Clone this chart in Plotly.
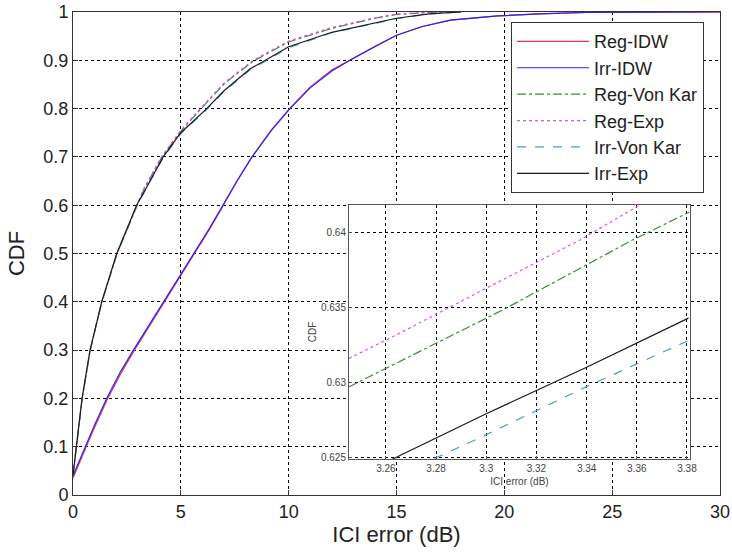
import plotly.graph_objects as go

# main plot: CDF of ICI error
idw_x = [0, 0.56, 1.0, 1.56, 2.2, 2.8, 3.5, 4.2, 4.9, 5.6, 6.3, 6.95, 7.6, 8.3, 9.2,
         10.06, 11.0, 12.0, 12.84, 14.0, 15.0, 16.2, 17.5, 19.7, 21.6, 23.8, 30]
irr_idw_y = [0.04, 0.1, 0.145, 0.2, 0.255, 0.3, 0.35, 0.4, 0.45, 0.5, 0.55, 0.6, 0.65, 0.7, 0.755,
             0.8, 0.843, 0.878, 0.9, 0.928, 0.952, 0.97, 0.983, 0.992, 0.996, 0.999, 1.0]
reg_idw_y = [0.035, 0.094, 0.14, 0.195, 0.25, 0.296, 0.346, 0.396, 0.447, 0.497, 0.548, 0.598, 0.649, 0.7, 0.756,
             0.801, 0.845, 0.88, 0.901, 0.929, 0.952, 0.97, 0.983, 0.992, 0.996, 0.999, 1.0]

kar_x = [0, 0.2, 0.42, 0.79, 1.33, 2.03, 2.95, 3.3, 4.1, 5.0, 5.9, 7.0, 8.35, 10.0, 12.0, 14.0, 15.0, 16.5, 18.0]
reg_vk_y = [0.043, 0.122, 0.198, 0.298, 0.398, 0.498, 0.598, 0.634, 0.698, 0.753, 0.798, 0.851, 0.898, 0.938, 0.966, 0.987, 0.995, 0.999, 1.0]
reg_exp_y = [0.045, 0.125, 0.2, 0.3, 0.4, 0.5, 0.6, 0.636, 0.7, 0.755, 0.8, 0.853, 0.9, 0.94, 0.968, 0.988, 0.996, 0.999, 1.0]
irr_exp_x = [0, 0.2, 0.42, 0.79, 1.33, 2.03, 2.95, 3.3, 4.18, 5.0, 6.2, 7.0, 8.2, 8.8, 10.0, 12.0, 15.0, 16.5, 18.0]
irr_exp_y = [0.04, 0.12, 0.2, 0.3, 0.4, 0.5, 0.6, 0.628, 0.7, 0.75, 0.8, 0.837, 0.882, 0.897, 0.928, 0.958, 0.987, 0.996, 1.0]
irr_vk_y = [0.039, 0.118, 0.198, 0.298, 0.398, 0.498, 0.598, 0.6265, 0.698, 0.748, 0.798, 0.835, 0.88, 0.895, 0.926, 0.957, 0.986, 0.996, 1.0]

# inset (zoom around x = 3.3)
in_reg_exp_x = [3.2453, 3.2656, 3.3, 3.337, 3.3615]
in_reg_exp_y = [0.6316, 0.6333, 0.6363, 0.6395, 0.6419]
in_reg_vk_x = [3.2453, 3.2596, 3.3072, 3.358, 3.3798, 3.381]
in_reg_vk_y = [0.6297, 0.6309, 0.6349, 0.6395, 0.6413, 0.6414]
in_irr_exp_x = [3.262, 3.2656, 3.3, 3.3398, 3.3806]
in_irr_exp_y = [0.6248, 0.6251, 0.6279, 0.6310, 0.6343]
in_irr_vk_x = [3.2794, 3.3, 3.3398, 3.3806]
in_irr_vk_y = [0.6249, 0.6265, 0.6297, 0.6328]

in_xticks = [3.26, 3.28, 3.30, 3.32, 3.34, 3.36, 3.38]
in_xlabels = ["3.26", "3.28", "3.3", "3.32", "3.34", "3.36", "3.38"]
in_yticks = [0.625, 0.63, 0.635, 0.64]
in_ylabels = ["0.625", "0.63", "0.635", "0.64"]

RED = "#f0304a"
BLUE = "#2424ff"
GREEN = "#3f8a3f"
MAGENTA = "#e055e0"
CYAN = "#4a9ec8"
BLACK = "#1a1a1a"

fig = go.Figure()

fig.add_trace(go.Scatter(x=idw_x, y=reg_idw_y, name="Reg-IDW", mode="lines",
                         line=dict(color=RED, width=1.2)))
fig.add_trace(go.Scatter(x=idw_x, y=irr_idw_y, name="Irr-IDW", mode="lines",
                         line=dict(color=BLUE, width=1.2)))
fig.add_trace(go.Scatter(x=kar_x, y=reg_vk_y, name="Reg-Von Kar", mode="lines",
                         line=dict(color=GREEN, width=1.2, dash="dashdot")))
fig.add_trace(go.Scatter(x=kar_x, y=reg_exp_y, name="Reg-Exp", mode="lines",
                         line=dict(color=MAGENTA, width=1.2, dash="dot")))
fig.add_trace(go.Scatter(x=irr_exp_x, y=irr_vk_y, name="Irr-Von Kar", mode="lines",
                         line=dict(color=CYAN, width=1.2, dash="dash")))
fig.add_trace(go.Scatter(x=irr_exp_x, y=irr_exp_y, name="Irr-Exp", mode="lines",
                         line=dict(color=BLACK, width=1.2)))

# inset traces
fig.add_trace(go.Scatter(x=in_reg_vk_x, y=in_reg_vk_y, mode="lines", showlegend=False,
                         xaxis="x2", yaxis="y2", line=dict(color=GREEN, width=1.2, dash="dashdot")))
fig.add_trace(go.Scatter(x=in_reg_exp_x, y=in_reg_exp_y, mode="lines", showlegend=False,
                         xaxis="x2", yaxis="y2", line=dict(color=MAGENTA, width=1.2, dash="dot")))
fig.add_trace(go.Scatter(x=in_irr_vk_x, y=in_irr_vk_y, mode="lines", showlegend=False,
                         xaxis="x2", yaxis="y2", line=dict(color=CYAN, width=1.2, dash="dash")))
fig.add_trace(go.Scatter(x=in_irr_exp_x, y=in_irr_exp_y, mode="lines", showlegend=False,
                         xaxis="x2", yaxis="y2", line=dict(color=BLACK, width=1.2)))

font_main = dict(family="Arial, Liberation Sans", size=18, color="#222")
font_small = dict(family="Arial, Liberation Sans", size=10, color="#444")

fig.update_layout(
    width=732, height=552,
    margin=dict(l=73, r=12, t=12, b=57),
    paper_bgcolor="white", plot_bgcolor="white",
    font=font_main,
    xaxis=dict(range=[0, 30], dtick=5, tick0=0, showgrid=True, gridcolor="black", griddash="dot",
               gridwidth=1, showline=True, mirror=True, linecolor="#333", linewidth=1,
               ticks="inside", ticklen=5, tickcolor="#333", zeroline=False, automargin=False,
               title=dict(text="ICI error (dB)", standoff=6), tickfont=font_main),
    yaxis=dict(range=[0, 1], showgrid=True, gridcolor="black", griddash="dot",
               gridwidth=1, showline=True, mirror=True, linecolor="#333", linewidth=1,
               ticks="inside", ticklen=5, tickcolor="#333", zeroline=False, automargin=False,
               tickvals=[0, 0.1, 0.2, 0.3, 0.4, 0.5, 0.6, 0.7, 0.8, 0.9, 1],
               ticktext=["0", "0.1", "0.2", "0.3", "0.4", "0.5", "0.6", "0.7", "0.8", "0.9", "1"],
               title=dict(text="CDF", standoff=12), tickfont=font_main),
    xaxis2=dict(domain=[0.4266, 0.9536], anchor="y2", range=[3.2453, 3.3812],
                tickvals=in_xticks, ticktext=in_xlabels, showgrid=True, gridcolor="black",
                griddash="dot", gridwidth=1, showline=True, mirror=True, linecolor="#555",
                linewidth=1, ticks="inside", ticklen=3, tickcolor="#555", zeroline=False,
                automargin=False,
                tickfont=font_small, title=dict(text="ICI error (dB)", font=font_small, standoff=4)),
    yaxis2=dict(domain=[0.0745, 0.6004], anchor="x2", range=[0.62487, 0.64187],
                tickvals=in_yticks, ticktext=in_ylabels, showgrid=True, gridcolor="black",
                griddash="dot", gridwidth=1, showline=True, mirror=True, linecolor="#555",
                linewidth=1, ticks="inside", ticklen=3, tickcolor="#555", zeroline=False,
                automargin=False,
                tickfont=font_small, title=dict(text="CDF", font=font_small, standoff=2)),
    legend=dict(x=0.677, y=0.979, xanchor="left", yanchor="top", bgcolor="white",
                bordercolor="#333", borderwidth=1,
                font=dict(family="Arial, Liberation Sans", size=18, color="#222"),
                itemwidth=72, tracegroupgap=0),
    showlegend=True,
)

# drop the browser's default body margin so the figure sits at the page corner
fig.write_html("out.html", config={"displayModeBar": False},
               post_script="document.body.style.margin='0';")
